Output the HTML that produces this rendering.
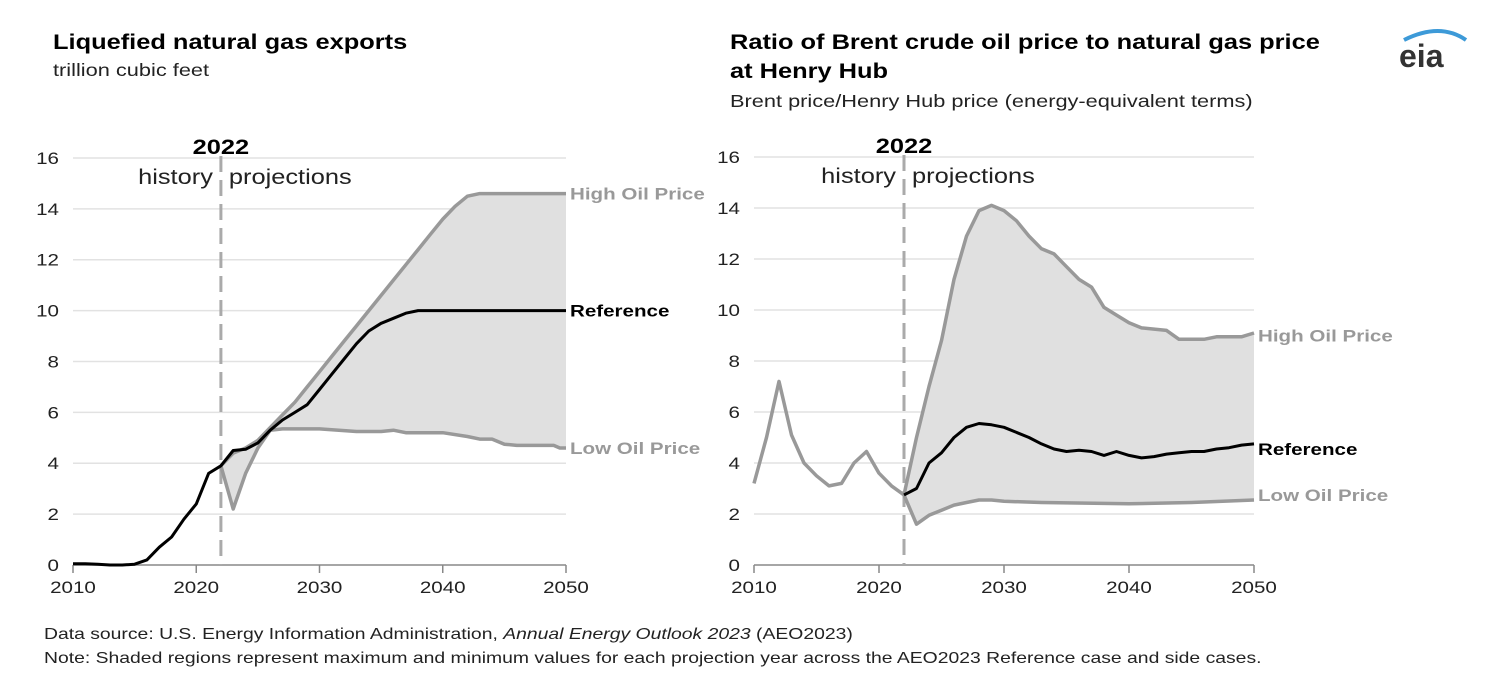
<!DOCTYPE html>
<html><head><meta charset="utf-8">
<style>
body{margin:0;background:#fff;}
svg{display:block;font-family:"Liberation Sans",Arial,sans-serif;}
</style></head>
<body>
<svg id="s" width="1490" height="692" xmlns="http://www.w3.org/2000/svg">
<g font-size="21" font-weight="bold" fill="#000">
<text x="53" y="49">Liquefied natural gas exports</text>
<text x="730" y="49">Ratio of Brent crude oil price to natural gas price</text>
<text x="730" y="78">at Henry Hub</text>
</g>
<g font-size="18" fill="#222">
<text x="53" y="76">trillion cubic feet</text>
<text x="730" y="107">Brent price/Henry Hub price (energy-equivalent terms)</text>
</g>
<g id="c1"></g><g id="c2"></g>
<g font-size="16" fill="#222">
<text x="44" y="639">Data source: U.S. Energy Information Administration, <tspan font-style="italic">Annual Energy Outlook 2023</tspan> (AEO2023)</text>
<text x="44" y="663">Note: Shaded regions represent maximum and minimum values for each projection year across the AEO2023 Reference case and side cases.</text>
</g>
<path d="M1404 40 Q1440 22 1466 40" stroke="#3d9ad8" stroke-width="4" fill="none"/>
<text x="1399" y="67" font-size="32" fill="#333" font-weight="bold" class="nos">eia</text>
</svg>
<script>
function interp(o){const ks=Object.keys(o).map(Number).sort((a,b)=>a-b);const r=[];for(const k of ks)r.push([k,o[k]]);return r;}
function chart(g,x0,x1,y0,y16,data,labels){
 const X=y=>x0+(y-2010)*(x1-x0)/40, Y=v=>y0-(v)*(y0-y16)/16;
 let h='';
 for(let v=0;v<=16;v+=2){
  if(v>0)h+=`<line x1="${x0}" x2="${x1}" y1="${Y(v)}" y2="${Y(v)}" stroke="#e2e2e2" stroke-width="1.5"/>`;
  h+=`<text x="${x0-14}" y="${Y(v)+6}" text-anchor="end" font-size="17" fill="#222">${v}</text>`;
 }
 const hi=interp(data.hi),lo=interp(data.lo);
 const pts=a=>a.map(p=>X(p[0]).toFixed(1)+','+Y(p[1]).toFixed(1)).join(' ');
 h+=`<polygon points="${pts(hi)} ${pts(lo.slice().reverse())}" fill="#e0e0e0"/>`;
 h+=`<line x1="${x0}" x2="${x1}" y1="${y0}" y2="${y0}" stroke="#888" stroke-width="1.5"/>`;
 for(let y=2010;y<=2050;y+=10){h+=`<line x1="${X(y)}" x2="${X(y)}" y1="${y0}" y2="${y0+8}" stroke="#888" stroke-width="1.5"/>`;
  h+=`<text x="${X(y)}" y="${y0+28}" text-anchor="middle" font-size="17" fill="#222">${y}</text>`;}
 const xd=X(2022);
 h+=`<line x1="${xd}" x2="${xd}" y1="${y16-2}" y2="${y0}" stroke="#aaa" stroke-width="3" stroke-dasharray="16,8"/>`;
 h+=`<text x="${xd}" y="${y16-4}" text-anchor="middle" font-size="21" font-weight="bold">2022</text>`;
 h+=`<text x="${xd-8}" y="${y16+26}" text-anchor="end" font-size="21" fill="#222">history</text>`;
 h+=`<text x="${xd+8}" y="${y16+26}" font-size="21" fill="#222">projections</text>`;
 if(data.hist)h+=`<polyline points="${pts(interp(data.hist))}" fill="none" stroke="#999" stroke-width="3.5" stroke-linejoin="round"/>`;
 h+=`<polyline points="${pts(hi)}" fill="none" stroke="#999" stroke-width="3.5" stroke-linejoin="round"/>`;
 h+=`<polyline points="${pts(lo)}" fill="none" stroke="#999" stroke-width="3.5" stroke-linejoin="round"/>`;
 h+=`<polyline points="${pts(interp(data.ref))}" fill="none" stroke="#000" stroke-width="3" stroke-linejoin="round"/>`;
 h+=`<text x="${x1+4}" y="${Y(labels[0])+6}" font-size="17" font-weight="bold" fill="#999">High Oil Price</text>`;
 h+=`<text x="${x1+4}" y="${Y(labels[1])+6}" font-size="17" font-weight="bold" fill="#000">Reference</text>`;
 h+=`<text x="${x1+4}" y="${Y(labels[2])+6}" font-size="17" font-weight="bold" fill="#999">Low Oil Price</text>`;
 document.getElementById(g).innerHTML=h;
}
const r1={2010:0.05,2011:0.05,2012:0.03,2013:0,2014:0,2015:0.03,2016:0.2,2017:0.7,2018:1.1,2019:1.8,2020:2.4,2021:3.6,2022:3.9,2023:4.5,2024:4.55,2025:4.8,2026:5.3,2027:5.7,2028:6.0,2029:6.3,2030:6.9,2031:7.5,2032:8.1,2033:8.7,2034:9.2,2035:9.5,2036:9.7,2037:9.9,2038:10,2050:10};
const h1={2022:3.9,2023:4.4,2024:4.6,2025:4.9,2026:5.4,2027:5.9,2028:6.4,2029:7.0,2030:7.6,2031:8.2,2032:8.8,2033:9.4,2034:10.0,2035:10.6,2036:11.2,2037:11.8,2038:12.4,2039:13.0,2040:13.6,2041:14.1,2042:14.5,2043:14.6,2050:14.6};
const l1={2022:3.9,2023:2.2,2024:3.6,2025:4.6,2026:5.3,2027:5.35,2030:5.35,2033:5.25,2035:5.25,2036:5.3,2037:5.2,2040:5.2,2042:5.05,2043:4.95,2044:4.95,2045:4.75,2046:4.7,2049:4.7,2049.5:4.6,2050:4.6};
chart('c1',73,566,565,158,{hi:h1,lo:l1,ref:r1},[14.6,10,4.6]);
const hist2={2010:3.2,2011:5.0,2012:7.2,2013:5.1,2014:4.0,2015:3.5,2016:3.1,2017:3.2,2018:4.0,2019:4.45,2020:3.6,2021:3.1,2022:2.75};
const r2={2022:2.75,2023:3.0,2024:4.0,2025:4.4,2026:5.0,2027:5.4,2028:5.55,2029:5.5,2030:5.4,2031:5.2,2032:5.0,2033:4.75,2034:4.55,2035:4.45,2036:4.5,2037:4.45,2038:4.3,2039:4.45,2040:4.3,2041:4.2,2042:4.25,2043:4.35,2044:4.4,2045:4.45,2046:4.45,2047:4.55,2048:4.6,2049:4.7,2050:4.75};
const h2={2022:2.75,2023:5.0,2024:7.0,2025:8.8,2026:11.2,2027:12.9,2028:13.9,2029:14.1,2030:13.9,2031:13.5,2032:12.9,2033:12.4,2034:12.2,2035:11.7,2036:11.2,2037:10.9,2038:10.1,2039:9.8,2040:9.5,2041:9.3,2042:9.25,2043:9.2,2044:8.85,2045:8.85,2046:8.85,2047:8.95,2048:8.95,2049:8.95,2050:9.1};
const l2={2022:2.75,2023:1.6,2024:1.95,2025:2.15,2026:2.35,2027:2.45,2028:2.55,2029:2.55,2030:2.5,2033:2.45,2040:2.4,2045:2.45,2050:2.55};
chart('c2',754,1254,565,157,{hi:h2,lo:l2,ref:r2,hist:hist2},[9.0,4.55,2.75]);
const S=1.21;
document.querySelectorAll('text').forEach(t=>{
 if(t.classList.contains('nos'))return;
 const a=t.getAttribute('text-anchor')||t.parentNode.getAttribute('text-anchor')||'start';
 const x=+t.getAttribute('x');
 t.setAttribute('transform',`translate(${x},0) scale(${S},1) translate(${-x},0)`);
});
</script>
</body></html>
